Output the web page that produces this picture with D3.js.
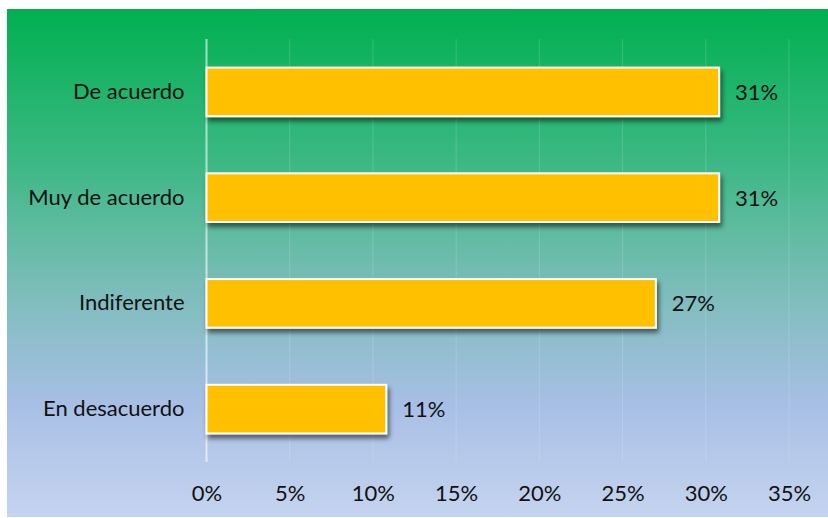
<!DOCTYPE html>
<html>
<head>
<meta charset="utf-8">
<script src="https://cdn.jsdelivr.net/npm/d3@7"></script>
<style>
  html, body { margin: 0; padding: 0; background: #ffffff; }
  svg { display: block; }
  text { font-family: Lato, "Open Sans", sans-serif; fill: #111111; }
</style>
</head>
<body>
<svg id="chart" width="828" height="518"></svg>
<script>
// Survey answers, top to bottom
const categories = ["De acuerdo", "Muy de acuerdo", "Indiferente", "En desacuerdo"];
const shares = [0.308, 0.308, 0.27, 0.108];
const tickValues = [0, 0.05, 0.10, 0.15, 0.20, 0.25, 0.30, 0.35];

const width = 828, height = 518;
const margin = { top: 39, right: 39, bottom: 56, left: 206.5 };
const fontSize = 22;

const svg = d3.select("#chart");
const defs = svg.append("defs");

// vertical background gradient: green to pale blue
const grad = defs.append("linearGradient")
  .attr("id", "bg").attr("x1", 0).attr("y1", 0).attr("x2", 0).attr("y2", 1);
[
  [0.00, "#00b050"],
  [0.30, "#3cb884"],
  [0.55, "#7bbdb9"],
  [0.78, "#a8bfe5"],
  [1.00, "#c5d4ef"]
].forEach(([o, c]) => grad.append("stop").attr("offset", o).attr("stop-color", c));

// soft drop shadow for the bars
const shadow = defs.append("filter").attr("id", "shadow")
  .attr("x", "-10%").attr("y", "-30%").attr("width", "130%").attr("height", "180%");
shadow.append("feGaussianBlur").attr("in", "SourceAlpha").attr("stdDeviation", 2.5).attr("result", "b");
shadow.append("feOffset").attr("in", "b").attr("dx", 2).attr("dy", 4).attr("result", "o");
shadow.append("feComponentTransfer").attr("in", "o").attr("result", "s")
  .append("feFuncA").attr("type", "linear").attr("slope", 0.55);
const merge = shadow.append("feMerge");
merge.append("feMergeNode").attr("in", "s");
merge.append("feMergeNode").attr("in", "SourceGraphic");

svg.append("rect")
  .attr("x", 7).attr("y", 9).attr("width", width - 7).attr("height", 508)
  .attr("fill", "url(#bg)");

const x = d3.scaleLinear()
  .domain([0, 0.35])
  .range([margin.left, 789]);

const y = d3.scaleBand()
  .domain(categories)
  .range([margin.top, height - margin.bottom])
  .paddingInner(0.54)
  .paddingOuter(0.27);

// vertical gridlines
svg.append("g")
  .selectAll("line")
  .data(tickValues.slice(1))
  .join("line")
  .attr("x1", d => x(d)).attr("x2", d => x(d))
  .attr("y1", margin.top).attr("y2", height - margin.bottom)
  .attr("stroke", "#ffffff").attr("stroke-opacity", 0.16).attr("stroke-width", 1);

// category axis line at 0%
svg.append("line")
  .attr("x1", x(0)).attr("x2", x(0))
  .attr("y1", margin.top).attr("y2", height - margin.bottom)
  .attr("stroke", "#ffffff").attr("stroke-opacity", 0.6).attr("stroke-width", 2);

// bars
svg.append("g")
  .selectAll("rect")
  .data(categories)
  .join("rect")
  .attr("x", x(0))
  .attr("y", d => y(d))
  .attr("width", (d, i) => x(shares[i]) - x(0))
  .attr("height", y.bandwidth())
  .attr("fill", "#ffc000")
  .attr("stroke", "#ffffff")
  .attr("stroke-width", 2)
  .attr("filter", "url(#shadow)");

const fmt = d3.format(".0%");

// value labels
svg.append("g")
  .selectAll("text")
  .data(categories)
  .join("text")
  .attr("x", (d, i) => x(shares[i]) + 16)
  .attr("y", d => y(d) + y.bandwidth() / 2)
  .attr("dy", "0.36em")
  .attr("font-size", fontSize)
  .text((d, i) => fmt(shares[i]));

// category labels
const yAxis = d3.axisLeft(y).tickSize(0).tickPadding(22);
const gy = svg.append("g").attr("transform", `translate(${x(0)},0)`).call(yAxis);
gy.select(".domain").remove();
gy.selectAll("text").attr("font-size", fontSize).attr("font-family", "Lato, 'Open Sans', sans-serif").attr("fill", "#111111");

// percentage axis
const xAxis = d3.axisBottom(x).tickValues(tickValues).tickFormat(fmt).tickSize(0).tickPadding(23);
const gx = svg.append("g").attr("transform", `translate(0,${height - margin.bottom})`).call(xAxis);
gx.select(".domain").remove();
gx.selectAll("text").attr("font-size", fontSize).attr("font-family", "Lato, 'Open Sans', sans-serif").attr("fill", "#111111");
</script>
</body>
</html>
